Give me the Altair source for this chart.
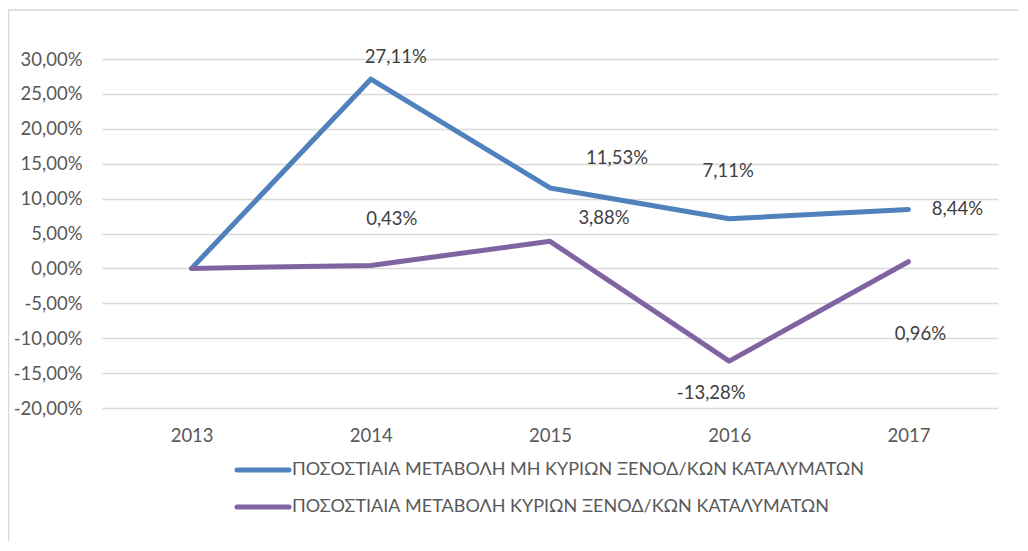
import altair as alt
import pandas as pd

years = ["2013", "2014", "2015", "2016", "2017"]
series_names = [
    "ΠΟΣΟΣΤΙΑΙΑ ΜΕΤΑΒΟΛΗ ΜΗ ΚΥΡΙΩΝ ΞΕΝΟΔ/ΚΩΝ ΚΑΤΑΛΥΜΑΤΩΝ",
    "ΠΟΣΟΣΤΙΑΙΑ ΜΕΤΑΒΟΛΗ ΚΥΡΙΩΝ ΞΕΝΟΔ/ΚΩΝ ΚΑΤΑΛΥΜΑΤΩΝ",
]
non_main = [0.0, 0.2711, 0.1153, 0.0711, 0.0844]
main = [0.0, 0.0043, 0.0388, -0.1328, 0.0096]
colors = ["#4F81BD", "#8064A2"]
y_ticks = [-0.2, -0.15, -0.1, -0.05, 0.0, 0.05, 0.1, 0.15, 0.2, 0.25, 0.3]

rows = []
for name, vals in zip(series_names, [non_main, main]):
    for y, v in zip(years, vals):
        rows.append({"year": y, "series": name, "value": v})
df = pd.DataFrame(rows)

# label offsets (style): (series index, year) -> (dx, dy)
label_offsets = {
    (0, "2014"): (25, -22),
    (0, "2015"): (67, -30),
    (0, "2016"): (-1, -48),
    (0, "2017"): (49, 0),
    (1, "2014"): (21, -46),
    (1, "2015"): (54, -23),
    (1, "2016"): (-18, 32),
    (1, "2017"): (12, 72),
}

FONT = "Lato"
FS = 18.5
LEG_FS = 18
GRAY = "#595959"
PCT = "replace(replace(format(datum.value, '.2%'), '.', ','), '\u2212', '-')"

x_enc = alt.X("year:N", sort=years,
              scale=alt.Scale(paddingInner=0, paddingOuter=0),
              axis=alt.Axis(title=None, labelAngle=0, domain=False, ticks=False, grid=False,
                            labelPadding=18, labelFontSize=FS, labelColor=GRAY,
                            labelFont=FONT))
y_enc = alt.Y("value:Q",
              scale=alt.Scale(domain=[-0.2, 0.3], nice=False, zero=False),
              axis=alt.Axis(title=None, values=y_ticks, labelExpr=PCT,
                            labelOverlap=False, labelFlush=False, tickCount=11,
                            domain=False, ticks=False, labelPadding=20,
                            labelFontSize=FS, labelColor=GRAY, labelFont=FONT,
                            gridColor="#d9d9d9", gridWidth=1.5))

base = alt.Chart(df)

lines = base.mark_line(strokeWidth=5, strokeCap="round", strokeJoin="round").encode(
    x=x_enc,
    y=y_enc,
    color=alt.Color("series:N", sort=series_names,
                    scale=alt.Scale(domain=series_names, range=colors),
                    legend=None),
)

label_layers = []
for (si, yr), (dx, dy) in label_offsets.items():
    t = base.transform_filter(
        (alt.datum.series == series_names[si]) & (alt.datum.year == yr)
    ).transform_calculate(label=PCT).mark_text(
        dx=dx, dy=dy, fontSize=FS, font=FONT, color="#404040"
    ).encode(
        x=x_enc,
        y=y_enc,
        text=alt.Text("label:N"),
    )
    label_layers.append(t)

# custom legend (below plot)
leg_rows = [411, 448]
legend_layers = []
for name, col, ly in zip(series_names, colors, leg_rows):
    ldf = pd.DataFrame({"series": [name]})
    legend_layers.append(
        alt.Chart(ldf).mark_rule(color=col, strokeWidth=5, strokeCap="round").encode(
            x=alt.value(135), x2=alt.value(187), y=alt.value(ly))
    )
    legend_layers.append(
        alt.Chart(ldf).mark_text(align="left", baseline="middle", fontSize=LEG_FS, font=FONT,
                                 color=GRAY).encode(
            x=alt.value(190), y=alt.value(ly), text="series:N")
    )

one = pd.DataFrame({"a": [0]})
frame_top = alt.Chart(one).mark_rule(color="#d9d9d9", strokeWidth=1.5).encode(
    x=alt.value(-94), x2=alt.value(920), y=alt.value(-49))
frame_left = alt.Chart(one).mark_rule(color="#d9d9d9", strokeWidth=1.5).encode(
    x=alt.value(-93.5), y=alt.value(-49), y2=alt.value(500))

chart = alt.layer(frame_top, frame_left, lines, *label_layers, *legend_layers).properties(
    width=896, height=349,
    autosize=alt.AutoSizeParams(type="none"),
    padding={"left": 94, "top": 51, "right": 20, "bottom": 133},
).configure(background="white").configure_view(stroke=None)

chart.save("out.html", embed_options={"renderer": "svg", "actions": False})
